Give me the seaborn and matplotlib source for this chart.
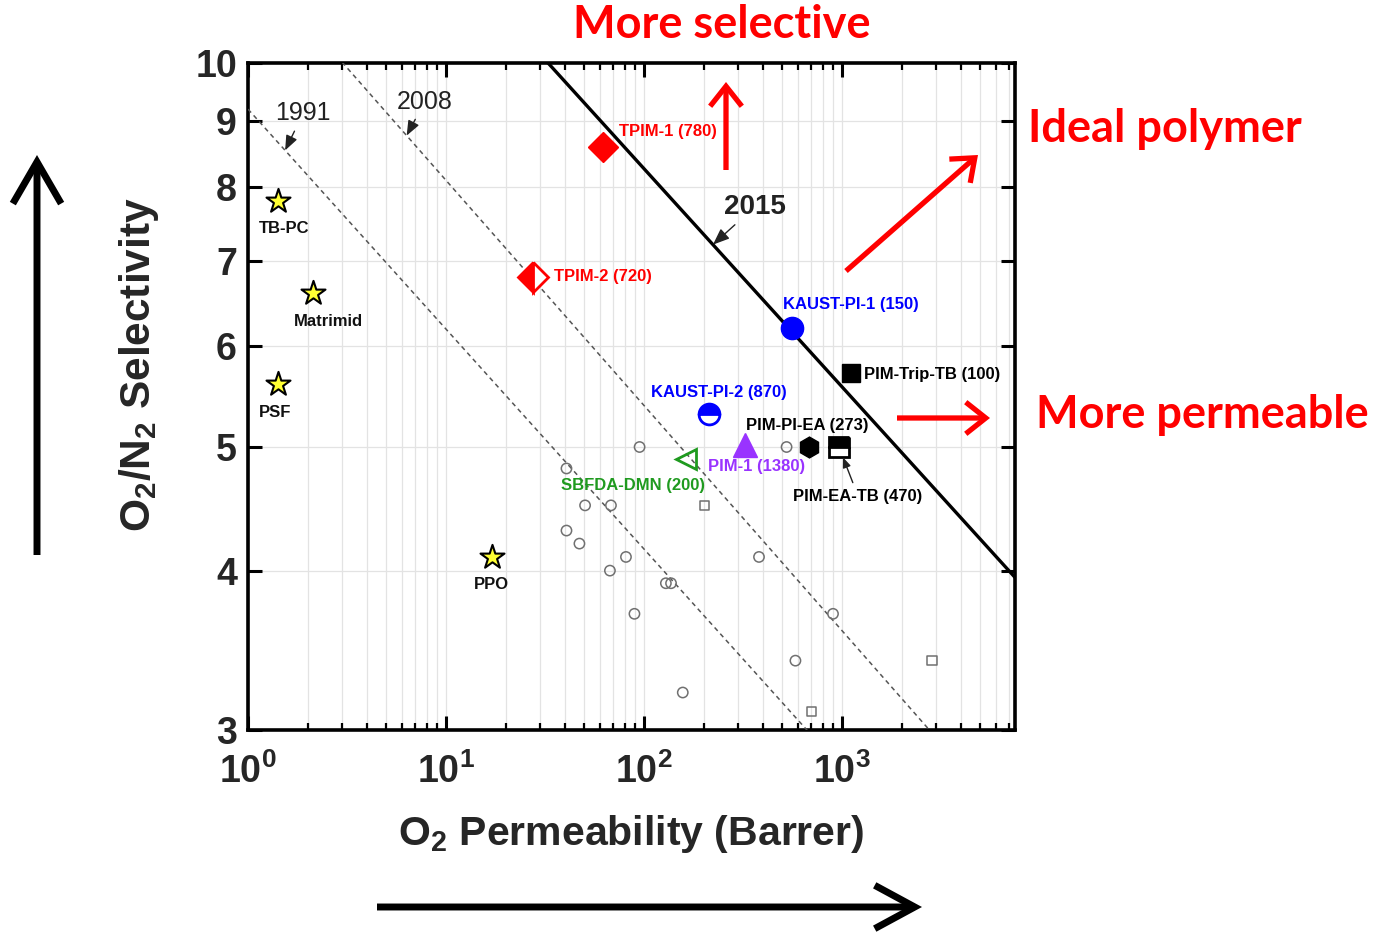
import numpy as np
import matplotlib
matplotlib.use("Agg")
import matplotlib.pyplot as plt
import seaborn as sns
from matplotlib.ticker import LogLocator, FixedLocator, NullLocator, FixedFormatter, NullFormatter

# literature polymers (small gray symbols)
lit_circle_p = [95, 525, 40.6, 50.4, 68.1, 40.6, 47.2, 81.1, 381, 67.3, 129, 137, 89.5, 901, 582, 157]
lit_circle_a = [5.0, 5.0, 4.81, 4.50, 4.50, 4.30, 4.20, 4.10, 4.10, 4.0, 3.91, 3.91, 3.70, 3.70, 3.40, 3.21]
lit_square_p = [202, 2850, 701]
lit_square_a = [4.50, 3.40, 3.10]

# commercial polymers (yellow stars)
comm_names = ["TB-PC", "Matrimid", "PSF", "PPO"]
comm_p = [1.42, 2.13, 1.42, 17.1]
comm_a = [7.80, 6.60, 5.60, 4.10]

# highlighted polymers
hl_names = ["TPIM-1 (780)", "TPIM-2 (720)", "KAUST-PI-1 (150)", "PIM-Trip-TB (100)",
            "KAUST-PI-2 (870)", "PIM-PI-EA (273)", "PIM-1 (1380)", "SBFDA-DMN (200)",
            "PIM-EA-TB (470)"]
hl_p = [62.1, 27.5, 559, 1110, 213, 681, 324, 163, 966]
hl_a = [8.60, 6.80, 6.20, 5.71, 5.31, 5.00, 5.02, 4.89, 5.00]

# Robeson-type upper bounds: P = k * alpha^(-n)
bound_years = ["1991", "2008", "2015"]
bound_k = [389224, 1396000, 2.31e7]
bound_n = [5.800, 5.666, 5.848]

y_ticks = [3, 4, 5, 6, 7, 8, 9, 10]

# ---- styles / layout ----
hl_marker = ['D', 'D', 'o', 's', 'o', 'h', '^', '<', 's']
hl_color = ['#ff0000', '#ff0000', '#0000ff', 'black', '#0000ff', 'black', '#9933ff', '#1f9a1f', 'black']
hl_fill = ['full', 'left', 'full', 'full', 'top', 'full', 'full', 'none', 'top']
hl_size = [15, 15, 16, 13, 15, 15, 17, 15, 14]
hl_text_color = ['#ff0000', '#ff0000', '#0000ff', 'black', '#0000ff', 'black', '#9933ff', '#1f9a1f', 'black']
# label offsets in image pixels (dx right, dy down) and alignment
hl_offset = [(16, -15), (21, 0), (59, -23), (13, 1), (10, -21), (-2, -22), (11, 22), (-53, 26), (19, 49)]
hl_ha = ['left', 'left', 'center', 'left', 'center', 'center', 'center', 'center', 'center']
comm_offset = [(6, 28), (15, 28), (-3, 28), (-1, 28)]
bound_tip_p = [1.54, 6.33, 223]
bound_text_off = [(18, -37), (18, -34), (42, -38)]

sns.set_theme(style="ticks")
plt.rcParams['font.family'] = ['Liberation Sans', 'DejaVu Sans']
plt.rcParams['mathtext.default'] = 'regular'
NARROW = ['Liberation Sans Narrow', 'Liberation Sans', 'DejaVu Sans']

W, H = 1381, 933
fig = plt.figure(figsize=(W / 100, H / 100), dpi=100)
ax = fig.add_axes([248 / W, 1 - 730 / H, (1015 - 248) / W, (730 - 63) / H])

xmin, xmax = 1, 7480
ax.set_xscale('log')
ax.set_yscale('log')
ax.set_xlim(xmin, xmax)
ax.set_ylim(3, 10)


def px(dx, dy):
    return (dx * 0.72, -dy * 0.72)


def bound(p, k, n):
    return (k / np.asarray(p, dtype=float)) ** (1.0 / n)


# upper bound lines
for i, yr in enumerate(bound_years):
    xs = np.array([xmin, xmax], dtype=float)
    ys = bound(xs, bound_k[i], bound_n[i])
    if yr == "2015":
        sns.lineplot(x=xs, y=ys, ax=ax, color='black', lw=2.4, zorder=3)
    else:
        sns.lineplot(x=xs, y=ys, ax=ax, color='#555555', lw=1.1, zorder=3,
                     linestyle=(0, (3, 2.5)))
    tip = (bound_tip_p[i], bound(bound_tip_p[i], bound_k[i], bound_n[i]))
    ax.annotate(yr, xy=tip, xytext=px(*bound_text_off[i]), textcoords='offset points',
                ha='center', va='center', fontsize=20 if yr == "2015" else 18,
                fontweight='bold' if yr == "2015" else 'normal', color='#222222',
                arrowprops=dict(arrowstyle='-|>,head_length=0.5,head_width=0.2',
                                color='#222222', lw=1.0, shrinkA=2, shrinkB=0))

# literature data
sns.scatterplot(x=lit_circle_p, y=lit_circle_a, ax=ax, marker='o', s=55,
                facecolors='none', edgecolor='#707070', linewidth=1.1, zorder=4)
sns.scatterplot(x=lit_square_p, y=lit_square_a, ax=ax, marker='s', s=45,
                facecolors='none', edgecolor='#707070', linewidth=1.1, zorder=4)

# commercial polymers
sns.scatterplot(x=comm_p, y=comm_a, ax=ax, marker='*', s=330, color='#ffff33',
                edgecolor='black', linewidth=1.5, zorder=5)
for i, name in enumerate(comm_names):
    ax.annotate(name, xy=(comm_p[i], comm_a[i]), xytext=px(*comm_offset[i]),
                textcoords='offset points', ha='center', va='center',
                fontsize=12, fontweight='bold', family=NARROW, color='#111111')

# highlighted polymers
for i, name in enumerate(hl_names):
    face = hl_color[i] if hl_fill[i] != 'none' else 'none'
    ax.plot(hl_p[i], hl_a[i], marker=hl_marker[i], ms=hl_size[i], color=hl_color[i],
            fillstyle=hl_fill[i], markerfacecolor=face, markerfacecoloralt='white',
            markeredgecolor=hl_color[i], markeredgewidth=2 if hl_fill[i] != 'full' else 1,
            linestyle='none', zorder=6)
    arrow = None
    if name.startswith("PIM-EA-TB"):
        arrow = dict(arrowstyle='-|>,head_length=0.5,head_width=0.2', color='#222222',
                     lw=1.0, shrinkA=2, shrinkB=8)
    ax.annotate(name, xy=(hl_p[i], hl_a[i]), xytext=px(*hl_offset[i]),
                textcoords='offset points', ha=hl_ha[i], va='center',
                fontsize=12, fontweight='bold', family=NARROW, color=hl_text_color[i],
                arrowprops=arrow, zorder=7)

# axes styling
ax.xaxis.set_major_locator(LogLocator(base=10, numticks=10))
ax.xaxis.set_minor_locator(LogLocator(base=10, subs=np.arange(2, 10), numticks=20))
ax.xaxis.set_minor_formatter(NullFormatter())
ax.yaxis.set_major_locator(FixedLocator(y_ticks))
ax.yaxis.set_major_formatter(FixedFormatter([str(t) for t in y_ticks]))
ax.yaxis.set_minor_locator(NullLocator())

ax.grid(which='both', axis='x', color='#e3e3e3', lw=0.9)
ax.grid(which='major', axis='y', color='#e3e3e3', lw=0.9)
ax.set_axisbelow(True)

ax.tick_params(which='both', direction='in', top=True, right=True, color='black')
ax.tick_params(which='major', length=10, width=2.2, labelsize=27, pad=8)
ax.tick_params(which='minor', length=5, width=1.6)
ax.tick_params(axis='x', which='major', pad=17)
for lab in ax.get_xticklabels() + ax.get_yticklabels():
    lab.set_fontweight('bold')
for sp in ax.spines.values():
    sp.set_linewidth(2.6)
    sp.set_color('black')

ax.set_xlabel("O$_2$ Permeability (Barrer)", fontsize=29.5, fontweight='bold', labelpad=16)
ax.set_ylabel("O$_2$/N$_2$ Selectivity", fontsize=30.5, fontweight='bold')
ax.yaxis.set_label_coords(-0.1135, 0.547)

# outside annotations
BIG = ['Lato', 'Open Sans', 'DejaVu Sans']
fig.text(722 / W, 1 - 25 / H, "More selective", color='#ff0000', fontsize=32.5,
         fontweight='bold', family=BIG, ha='center', va='center')
fig.text(1028 / W, 1 - 129 / H, "Ideal polymer", color='#ff0000', fontsize=32.5,
         fontweight='bold', family=BIG, ha='left', va='center')
fig.text(1036 / W, 1 - 415 / H, "More permeable", color='#ff0000', fontsize=32.5,
         fontweight='bold', family=BIG, ha='left', va='center')


def fig_arrow(x0, y0, x1, y1, color, lw, hl, hw):
    ax.annotate('', xy=(x1, H - y1), xytext=(x0, H - y0), xycoords='figure pixels',
                textcoords='figure pixels', annotation_clip=False,
                arrowprops=dict(arrowstyle=f'->,head_length={hl},head_width={hw}',
                                color=color, lw=lw, shrinkA=0, shrinkB=0,
                                capstyle='butt', joinstyle='miter'))


fig_arrow(726, 170, 726, 82, '#ff0000', 3.8, 1.2, 0.95)
fig_arrow(846, 271, 978, 155, '#ff0000', 3.8, 1.2, 0.95)
fig_arrow(897, 418, 990, 418, '#ff0000', 3.8, 1.2, 0.95)
fig_arrow(37, 555, 37, 155, 'black', 5.0, 2.5, 1.45)
fig_arrow(377, 907, 922, 907, 'black', 5.0, 2.4, 1.3)

fig.savefig("out.png", dpi=100, facecolor='white')
